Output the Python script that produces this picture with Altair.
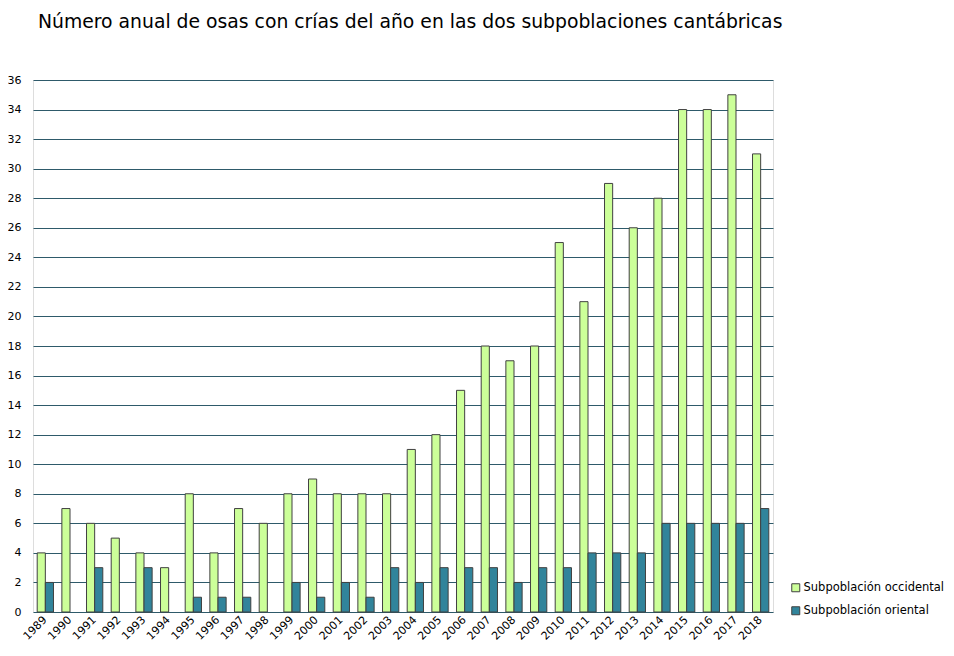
import altair as alt
import pandas as pd

years = [str(y) for y in range(1989, 2019)]
occidental = [4, 7, 6, 5, 4, 3, 8, 4, 7, 6, 8, 9, 8, 8, 8, 11, 12, 15, 18, 17, 18, 25, 21, 29, 26, 28, 34, 34, 35, 31]
oriental = [2, 0, 3, 0, 3, 0, 1, 1, 1, 0, 2, 1, 2, 1, 3, 2, 3, 3, 3, 2, 3, 3, 4, 4, 4, 6, 6, 6, 6, 7]
series = ["Subpoblación occidental", "Subpoblación oriental"]
colors = ["#CCFF99", "#31849B"]

rows = []
for i, y in enumerate(years):
    rows.append({"year": y, "serie": series[0], "value": occidental[i]})
    rows.append({"year": y, "serie": series[1], "value": oriental[i]})
df = pd.DataFrame(rows)

FONT = "DejaVu Sans"

chart = alt.Chart(df).transform_filter(
    "datum.value > 0"
).mark_bar(stroke="#404040", strokeWidth=1).encode(
    x=alt.X("year:N", sort=years, title=None,
            scale=alt.Scale(domain=years, paddingInner=0.34, paddingOuter=0.17),
            axis=alt.Axis(labelAngle=315, labelAlign="right", labelBaseline="middle",
                          ticks=False, domain=False, labelFontSize=11, labelPadding=6,
                          labelColor="#000000", labelFont=FONT)),
    xOffset=alt.XOffset("serie:N", sort=series, scale=alt.Scale(domain=series)),
    y=alt.Y("value:Q", title=None,
            scale=alt.Scale(domain=[0, 36], nice=False),
            axis=alt.Axis(values=list(range(0, 37, 2)), ticks=False, domain=False,
                          grid=True, gridColor="#2E5A6A", gridWidth=1,
                          labelFontSize=11, labelPadding=12, labelColor="#000000",
                          labelFont=FONT)),
    color=alt.Color("serie:N", sort=series,
                    scale=alt.Scale(domain=series, range=colors),
                    legend=alt.Legend(title=None, orient="none", legendX=757, legendY=502,
                                      symbolType="square", symbolSize=64,
                                      symbolStrokeColor="#404040", symbolStrokeWidth=1,
                                      labelFontSize=11.5, labelFont=FONT, labelColor="#000000",
                                      rowPadding=10, labelOffset=2)),
).properties(
    width=740,
    height=532,
    title=alt.TitleParams("Número anual de osas con crías del año en las dos subpoblaciones cantábricas",
                          anchor="start", frame="group", font=FONT, fontSize=18.8,
                          fontWeight="normal", color="#000000", offset=42, dx=5,
                          limit=0),
    autosize=alt.AutoSizeParams(type="none"),
    padding={"left": 25, "top": 72, "right": 173, "bottom": 36},
).configure_view(
    stroke="#4F8196", strokeWidth=2
).configure(background="#FFFFFF")

chart.save("out.html", embed_options={"renderer": "svg", "actions": False})
